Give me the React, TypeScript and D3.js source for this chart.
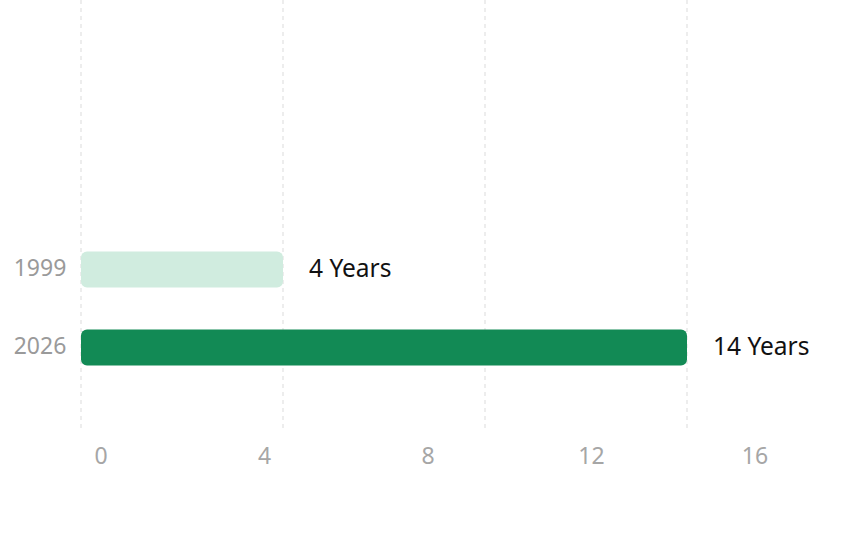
import React from "react";
import * as d3 from "d3";

const years = ["1999", "2026"];
const barValues = [4, 12];
const valueLabels = ["4 Years", "14 Years"];
const gridValues = [0, 4, 8, 12];
const tickLabels = [0, 4, 8, 12, 16];
const barColors = ["#D0ECDF", "#128A55"];

const W = 848;
const H = 558;

export default function App() {
  const x = d3.scaleLinear().domain([0, 16]).range([81, 889]);
  const xLabel = d3.scaleLinear().domain([0, 16]).range([101, 755]);
  const y = d3
    .scaleBand<string>()
    .domain(years)
    .range([230.5, 386.5])
    .paddingInner(0.538)
    .paddingOuter(0.269);
  const font = "'Noto Sans', sans-serif";

  return (
    <svg
      width={W}
      height={H}
      style={{ position: "absolute", left: 0, top: 0, background: "#fff" }}
    >
      {gridValues.map((g) => (
        <line
          key={g}
          x1={x(g)}
          x2={x(g)}
          y1={0}
          y2={429}
          stroke="#e2e2e2"
          strokeWidth={1.2}
          strokeDasharray="4 4"
        />
      ))}
      {years.map((yr, i) => (
        <g key={yr}>
          <rect
            x={x(0)}
            y={y(yr)}
            width={x(barValues[i]) - x(0)}
            height={y.bandwidth()}
            rx={6}
            ry={6}
            fill={barColors[i]}
          />
          <text
            x={40}
            y={(y(yr) as number) + y.bandwidth() / 2}
            dy="0.3em"
            textAnchor="middle"
            fill="#9a9a9a"
            fontFamily={font}
            fontSize={23}
          >
            {yr}
          </text>
          <text
            x={x(barValues[i]) + 26}
            y={(y(yr) as number) + y.bandwidth() / 2}
            dy="0.3em"
            textAnchor="start"
            fill="#111"
            fontFamily={font}
            fontSize={24.5}
          >
            {valueLabels[i]}
          </text>
        </g>
      ))}
      {tickLabels.map((t) => (
        <text
          key={t}
          x={xLabel(t)}
          y={456}
          dy="0.33em"
          textAnchor="middle"
          fill="#a6a6a6"
          fontFamily={font}
          fontSize={23}
        >
          {t}
        </text>
      ))}
    </svg>
  );
}
